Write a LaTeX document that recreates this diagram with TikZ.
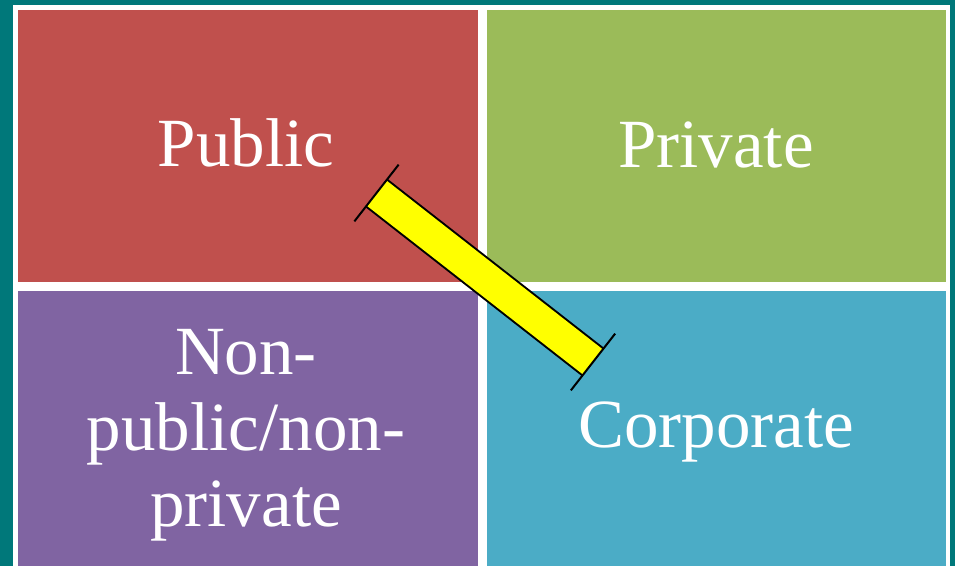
\documentclass[tikz,border=0pt]{standalone}
\usepackage{fontspec}
\setmainfont{Liberation Serif}
\usetikzlibrary{calc}
\definecolor{bgteal}{RGB}{0,120,122}
\definecolor{cred}{HTML}{C0504D}
\definecolor{cgreen}{HTML}{9BBB59}
\definecolor{cpurple}{HTML}{8064A2}
\definecolor{cblue}{HTML}{4BACC6}
\definecolor{baryellow}{RGB}{255,255,0}
\tikzset{
  cell/.style={draw=none, inner sep=0pt, anchor=north west},
  label/.style={text=white, inner sep=0pt, font=\fontsize{69}{76}\selectfont},
  tbar/.style={draw=black, line width=2pt, line cap=butt},
}
\begin{document}
\begin{tikzpicture}[x=1pt,y=-1pt]
\useasboundingbox (0,0) rectangle (955,566);
\fill[bgteal] (0,0) rectangle (955,566);
\fill[white] (13,5) rectangle (950,566);
% cells
\node[cell, fill=cred,    minimum width=460pt, minimum height=272pt] (pub)  at (18,10) {};
\node[cell, fill=cgreen,  minimum width=459pt, minimum height=272pt] (priv) at (487,10) {};
\node[cell, fill=cpurple, minimum width=460pt, minimum height=275pt] (non)  at (18,291) {};
\node[cell, fill=cblue,   minimum width=459pt, minimum height=275pt] (corp) at (487,291) {};
% labels
\node[label, anchor=base] (tpub)  at (246,166) {Public};
\node[label, anchor=base] (tpriv) at (716,167) {Private};
\node[label, anchor=base] (tcorp) at (716,447) {Corporate};
\node[label, align=center] (tnon) at (246,435.7) {Non-\\public/non-\\private};
% bar
\coordinate (A) at (376.5,193);
\coordinate (B) at (593,362);
\draw[black, line width=36pt, line cap=butt] (A) -- (B);
\draw[baryellow, line width=32pt, line cap=butt] (A) -- (B);
\draw[tbar] ($(A)!36pt!90:(B)$) -- ($(A)!36pt!-90:(B)$);
\draw[tbar] ($(B)!36pt!90:(A)$) -- ($(B)!36pt!-90:(A)$);
\end{tikzpicture}
\end{document}
